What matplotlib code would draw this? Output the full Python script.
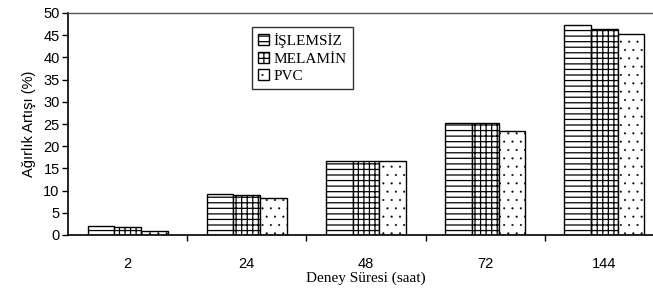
import numpy as np
import matplotlib
matplotlib.use('Agg')
import matplotlib.pyplot as plt

# Data
categories = ['2', '24', '48', '72', '144']
islemsiz = [2.0, 9.2, 16.6, 25.3, 47.3]
melamin = [1.7, 9.0, 16.6, 25.3, 46.3]
pvc = [0.8, 8.3, 16.7, 23.4, 45.2]
series_names = ['İŞLEMSİZ', 'MELAMİN', 'PVC']

plt.rcParams['hatch.linewidth'] = 0.9
plt.rcParams['hatch.color'] = 'black'

fig = plt.figure(figsize=(6.53, 2.98), dpi=100)
ax = fig.add_axes([68 / 653, 63 / 298, 596 / 653, 222 / 298])

x = np.arange(len(categories))
w = 0.224
hatches = ['---', '+++', '..']
hatch_lw = [0.9, 0.9, 0.25]
for i, (vals, name, h) in enumerate(zip([islemsiz, melamin, pvc], series_names, hatches)):
    bars = ax.bar(x + (i - 1) * w, vals, width=w, color='white', edgecolor='black',
                  linewidth=1.0, hatch=h, label=name)
    for p in bars:
        if hasattr(p, 'set_hatch_linewidth'):
            p.set_hatch_linewidth(hatch_lw[i])

ax.set_xlim(-0.5, len(categories) - 0.5)
ax.set_ylim(0, 50)
ax.set_yticks(np.arange(0, 51, 5))

sans = ['Liberation Sans Narrow', 'Liberation Sans', 'DejaVu Sans']
serif = ['Liberation Serif', 'DejaVu Serif']

ax.set_xticks(x)
ax.set_xticklabels(categories, family=sans, fontsize=10.5)
ax.set_xticks(np.arange(0.5, len(categories) - 0.5, 1), minor=True)
ax.tick_params(axis='x', which='major', length=0, pad=16)
ax.tick_params(axis='x', which='minor', length=4, width=1, direction='out')
ax.tick_params(axis='y', length=4, width=1, direction='out', pad=2)
for lab in ax.get_yticklabels():
    lab.set_family(sans)
    lab.set_fontsize(10.5)

ax.spines['right'].set_visible(False)
ax.spines['top'].set_color('#555555')
ax.spines['top'].set_linewidth(1.0)
ax.spines['left'].set_linewidth(1.2)
ax.spines['bottom'].set_linewidth(1.2)

ax.set_xlabel('Deney Süresi (saat)', family=serif, fontsize=11, labelpad=0)
ax.set_ylabel('Ağırlık Artışı (%)', family=sans, fontsize=10.5, labelpad=5)

leg = ax.legend(loc='upper left', bbox_to_anchor=((252 - 68) / 596, (235 - 27) / 222),
                prop={'family': serif, 'size': 11}, frameon=True, fancybox=False,
                handlelength=0.7, handleheight=0.7, handletextpad=0.3,
                labelspacing=0.25, borderpad=0.4, borderaxespad=0)
leg.get_frame().set_edgecolor('black')
leg.get_frame().set_linewidth(1.0)
for hp, lw in zip(leg.get_patches(), hatch_lw):
    if hasattr(hp, 'set_hatch_linewidth'):
        hp.set_hatch_linewidth(lw)

fig.savefig('out.png', dpi=100)
